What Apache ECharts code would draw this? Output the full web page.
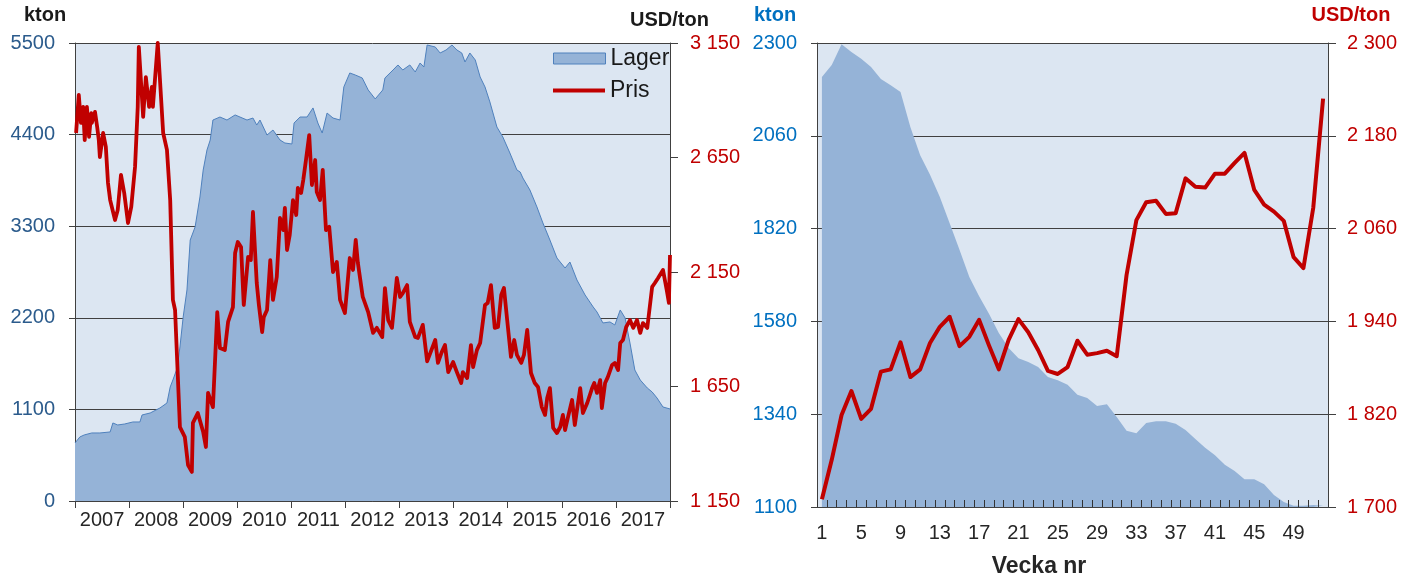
<!DOCTYPE html>
<html>
<head>
<meta charset="utf-8">
<title>Lager och pris</title>
<script src="https://cdn.jsdelivr.net/npm/echarts@6/dist/echarts.min.js"></script>
<style>
  html, body { margin: 0; padding: 0; background: #fff; }
  #chart { width: 1419px; height: 578px; }
</style>
</head>
<body>
<div id="chart"></div>
<script>
// ---- vänster diagram: lager (kton) och pris (USD/ton), 2007-2017 ----
const yearLabels = ['2007', '2008', '2009', '2010', '2011', '2012', '2013', '2014', '2015', '2016', '2017'];

const lagerYears = [
  2007.00, 2007.09, 2007.17, 2007.31, 2007.46, 2007.65, 2007.70, 2007.79, 2007.92, 2008.07,
  2008.20, 2008.24, 2008.39, 2008.57, 2008.70, 2008.76, 2008.81, 2008.89, 2008.94, 2009.00,
  2009.07, 2009.13, 2009.22, 2009.31, 2009.37, 2009.44, 2009.50, 2009.55, 2009.68, 2009.81,
  2009.96, 2010.05, 2010.18, 2010.29, 2010.36, 2010.42, 2010.55, 2010.66, 2010.79, 2010.88,
  2011.01, 2011.05, 2011.16, 2011.29, 2011.40, 2011.49, 2011.57, 2011.66, 2011.77, 2011.90,
  2011.97, 2012.08, 2012.18, 2012.31, 2012.42, 2012.55, 2012.69, 2012.73, 2012.88, 2012.97,
  2013.06, 2013.19, 2013.29, 2013.38, 2013.45, 2013.51, 2013.66, 2013.75, 2013.86, 2013.97,
  2014.06, 2014.15, 2014.21, 2014.30, 2014.40, 2014.49, 2014.58, 2014.67, 2014.80, 2014.91,
  2015.04, 2015.17, 2015.23, 2015.28, 2015.41, 2015.54, 2015.65, 2015.78, 2015.91, 2016.06,
  2016.15, 2016.28, 2016.43, 2016.58, 2016.65, 2016.76, 2016.89, 2016.98, 2017.08, 2017.17,
  2017.26, 2017.35, 2017.45, 2017.58, 2017.67, 2017.76, 2017.87, 2018.00
];
const lagerKton = [
  697, 769, 793, 817, 817, 829, 937, 913, 925, 949,
  949, 1033, 1057, 1117, 1177, 1369, 1453, 1597, 1849, 2210,
  2534, 3134, 3290, 3651, 3975, 4215, 4335, 4575, 4611, 4575,
  4636, 4611, 4575, 4599, 4515, 4575, 4395, 4455, 4335, 4299,
  4287, 4539, 4611, 4611, 4720, 4539, 4419, 4659, 4599, 4575,
  4972, 5140, 5116, 5080, 4936, 4828, 4936, 5080, 5176, 5236,
  5176, 5236, 5152, 5260, 5212, 5476, 5452, 5380, 5416, 5476,
  5416, 5380, 5272, 5380, 5296, 5092, 4972, 4792, 4491, 4371,
  4179, 3975, 3951, 3879, 3735, 3531, 3339, 3134, 2918, 2798,
  2870, 2654, 2474, 2330, 2270, 2138, 2150, 2114, 2294, 2198,
  1897, 1573, 1453, 1357, 1309, 1237, 1129, 1105
];

const prisYears = [
  2007.02, 2007.07, 2007.11, 2007.15, 2007.18, 2007.22, 2007.26, 2007.30, 2007.31, 2007.37,
  2007.41, 2007.44, 2007.46, 2007.52, 2007.57, 2007.61, 2007.65, 2007.74, 2007.79, 2007.85,
  2007.91, 2007.98, 2008.04, 2008.11, 2008.16, 2008.18, 2008.26, 2008.31, 2008.37, 2008.42,
  2008.44, 2008.53, 2008.63, 2008.70, 2008.76, 2008.81, 2008.85, 2008.94, 2009.03, 2009.09,
  2009.16, 2009.18, 2009.27, 2009.37, 2009.42, 2009.46, 2009.55, 2009.63, 2009.68, 2009.77,
  2009.83, 2009.92, 2009.96, 2010.01, 2010.07, 2010.12, 2010.20, 2010.25, 2010.29, 2010.36,
  2010.40, 2010.46, 2010.49, 2010.55, 2010.61, 2010.66, 2010.73, 2010.79, 2010.85, 2010.88,
  2010.92, 2010.97, 2011.03, 2011.09, 2011.12, 2011.18, 2011.22, 2011.27, 2011.33, 2011.38,
  2011.44, 2011.47, 2011.53, 2011.58, 2011.64, 2011.70, 2011.77, 2011.84, 2011.90, 2011.99,
  2012.08, 2012.14, 2012.19, 2012.23, 2012.32, 2012.42, 2012.51, 2012.58, 2012.68, 2012.73,
  2012.79, 2012.86, 2012.95, 2013.01, 2013.06, 2013.14, 2013.19, 2013.29, 2013.34, 2013.43,
  2013.51, 2013.66, 2013.71, 2013.78, 2013.84, 2013.90, 2013.99, 2014.06, 2014.14, 2014.17,
  2014.25, 2014.32, 2014.36, 2014.43, 2014.49, 2014.58, 2014.63, 2014.69, 2014.76, 2014.82,
  2014.88, 2014.93, 2014.99, 2015.06, 2015.12, 2015.17, 2015.25, 2015.30, 2015.36, 2015.43,
  2015.50, 2015.56, 2015.63, 2015.69, 2015.73, 2015.78, 2015.84, 2015.91, 2015.97, 2016.02,
  2016.06, 2016.11, 2016.19, 2016.24, 2016.34, 2016.39, 2016.47, 2016.56, 2016.60, 2016.65,
  2016.71, 2016.74, 2016.80, 2016.85, 2016.93, 2016.98, 2017.04, 2017.08, 2017.13, 2017.19,
  2017.26, 2017.32, 2017.39, 2017.45, 2017.50, 2017.58, 2017.61, 2017.67, 2017.72, 2017.78,
  2017.87, 2017.94, 2017.98, 2018.00
];
const prisUsd = [
  2757, 2923, 2801, 2871, 2726, 2871, 2740, 2844, 2801, 2849,
  2783, 2726, 2652, 2757, 2696, 2539, 2464, 2377, 2421, 2574,
  2495, 2364, 2434, 2609, 2871, 3133, 2827, 3001, 2871, 2958,
  2871, 3150, 2757, 2683, 2464, 2028, 1984, 1473, 1430, 1307,
  1277, 1491, 1534, 1451, 1386, 1622, 1560, 1975, 1818, 1809,
  1932, 1997, 2233, 2281, 2259, 2006, 2216, 2202, 2412, 2102,
  2006, 1888, 1953, 1984, 2202, 2028, 2128, 2386, 2333, 2430,
  2246, 2312, 2464, 2399, 2517, 2495, 2552, 2639, 2748, 2530,
  2639, 2499, 2464, 2596, 2333, 2347, 2150, 2194, 2028, 1971,
  2211, 2159, 2290, 2189, 2041, 1975, 1884, 1906, 1866, 2080,
  1940, 1906, 2124, 2041, 2058, 2093, 1932, 1866, 1862, 1919,
  1760, 1853, 1753, 1800, 1831, 1713, 1757, 1713, 1665, 1713,
  1687, 1831, 1735, 1809, 1840, 2006, 2015, 2093, 1906, 1910,
  2050, 2080, 1940, 1779, 1853, 1788, 1753, 1788, 1897, 1709,
  1665, 1648, 1560, 1526, 1600, 1643, 1469, 1447, 1473, 1526,
  1460, 1512, 1591, 1482, 1643, 1534, 1578, 1643, 1665, 1622,
  1678, 1556, 1665, 1691, 1744, 1753, 1722, 1840, 1853, 1910,
  1940, 1906, 1940, 1884, 1927, 1906, 1906, 2085, 2102, 2124,
  2159, 2071, 2015, 2224
];
const usdTicksLeft = [1150, 1650, 2150, 2650, 3150];

// ---- höger diagram: vecka 1-52 ----
const weeks = [
  '1', '2', '3', '4', '5', '6', '7', '8', '9', '10', '11', '12', '13',
  '14', '15', '16', '17', '18', '19', '20', '21', '22', '23', '24', '25', '26',
  '27', '28', '29', '30', '31', '32', '33', '34', '35', '36', '37', '38', '39',
  '40', '41', '42', '43', '44', '45', '46', '47', '48', '49', '50', '51', '52'
];
const weekLager = [
  2212, 2243, 2297, 2277, 2259, 2238, 2207, 2191, 2173, 2083, 2010, 1959, 1902,
  1834, 1765, 1695, 1645, 1600, 1550, 1511, 1485, 1475, 1462, 1436, 1428, 1416,
  1390, 1382, 1361, 1366, 1333, 1297, 1291, 1317, 1322, 1322, 1315, 1299, 1276,
  1253, 1234, 1209, 1193, 1172, 1172, 1159, 1131, 1113, 1103, 1103, 1105, 1103
];
const weekPris = [
  1710, 1761, 1819, 1850, 1814, 1827, 1875, 1878, 1913, 1868, 1878, 1912, 1933,
  1946, 1908, 1920, 1942, 1909, 1878, 1916, 1943, 1926, 1903, 1876, 1872, 1881,
  1915, 1897, 1899, 1902, 1895, 2000, 2071, 2094, 2096, 2079, 2080, 2125, 2114,
  2113, 2131, 2131, 2145, 2158, 2110, 2091, 2082, 2070, 2023, 2009, 2087, 2228
];
const ktonTicksRight = [1100, 1340, 1580, 1820, 2060, 2300];
const usdTicksRight = [1700, 1820, 1940, 2060, 2180, 2300];

const FONT = '"Liberation Sans", Arial, sans-serif';
const AXIS = '#404040';
const GRID = '#404040';
const FILL = '#95b3d7';
const EDGE = '#4f81bd';
const RED = '#c00000';

function spaced(v) {
  const s = String(Math.round(v));
  return s.length > 3 ? s.slice(0, -3) + ' ' + s.slice(-3) : s;
}
function plain(v) {
  return String(Math.round(v));
}

const chart = echarts.init(document.getElementById('chart'), null, { renderer: 'canvas' });

const option = {
  animation: false,
  textStyle: { fontFamily: FONT },
  grid: [
    { left: 75, top: 43, width: 595, height: 458, show: true, backgroundColor: '#dce6f2', borderWidth: 0 },
    { left: 817, top: 43, width: 511, height: 464, show: true, backgroundColor: '#dce6f2', borderWidth: 0 }
  ],
  legend: [
    {
      data: [{ name: 'Lager', icon: 'rect', itemStyle: { color: FILL, borderColor: EDGE, borderWidth: 1 } }],
      left: 553, top: 47, padding: 0, itemWidth: 52, itemHeight: 11, selectedMode: false,
      textStyle: { fontSize: 23, lineHeight: 23, color: '#1a1a1a', fontFamily: FONT }
    },
    {
      data: [{ name: 'Pris', icon: 'rect', itemStyle: { color: RED, borderWidth: 0 } }],
      left: 553, top: 79, padding: 0, itemWidth: 52, itemHeight: 4, selectedMode: false,
      textStyle: { fontSize: 23, lineHeight: 23, color: '#1a1a1a', fontFamily: FONT }
    }
  ],
  xAxis: [
    {
      gridIndex: 0, type: 'value', min: 2007, max: 2018, interval: 1, position: 'bottom', z: 5,
      axisLine: { show: true, lineStyle: { color: AXIS, width: 1 } },
      axisTick: { show: true, length: 7, lineStyle: { color: AXIS } },
      axisLabel: { show: false },
      splitLine: { show: false }
    },
    {
      gridIndex: 0, type: 'category', data: yearLabels, position: 'bottom', boundaryGap: true,
      axisLine: { show: false }, axisTick: { show: false },
      axisLabel: { interval: 0, fontSize: 20, color: '#262626', margin: 9 }
    },
    {
      gridIndex: 1, type: 'category', data: weeks, boundaryGap: true, position: 'bottom', z: 5,
      axisLine: { show: true, lineStyle: { color: AXIS, width: 1 } },
      axisTick: { show: true, inside: true, interval: 0, length: 7, lineStyle: { color: '#333333' } },
      axisLabel: { interval: 3, fontSize: 20, color: '#262626', margin: 16 }
    }
  ],
  yAxis: [
    {
      gridIndex: 0, type: 'value', min: 0, max: 5500, interval: 1100, position: 'left',
      axisLine: { show: true, lineStyle: { color: AXIS } },
      axisTick: { show: true, length: 6, lineStyle: { color: AXIS } },
      axisLabel: { fontSize: 20, color: '#2b5b8c', margin: 20, formatter: plain },
      splitLine: { show: true, lineStyle: { color: GRID, width: 1 } }
    },
    {
      gridIndex: 0, type: 'value', min: 1150, max: 3150, position: 'right',
      axisLine: { show: true, lineStyle: { color: AXIS } },
      axisTick: { show: true, length: 8, customValues: usdTicksLeft, lineStyle: { color: AXIS } },
      axisLabel: { fontSize: 20, color: RED, margin: 20, customValues: usdTicksLeft, formatter: spaced },
      splitLine: { show: false }
    },
    {
      gridIndex: 1, type: 'value', min: 1100, max: 2300, position: 'left',
      axisLine: { show: true, lineStyle: { color: AXIS } },
      axisTick: { show: true, length: 6, customValues: ktonTicksRight, lineStyle: { color: AXIS } },
      axisLabel: { fontSize: 20, color: '#0070c0', margin: 20, customValues: ktonTicksRight, formatter: plain },
      splitLine: { show: true, lineStyle: { color: GRID, width: 1 } }
    },
    {
      gridIndex: 1, type: 'value', min: 1700, max: 2300, position: 'right',
      axisLine: { show: true, lineStyle: { color: AXIS } },
      axisTick: { show: true, length: 8, customValues: usdTicksRight, lineStyle: { color: AXIS } },
      axisLabel: { fontSize: 20, color: RED, margin: 19, customValues: usdTicksRight, formatter: spaced },
      splitLine: { show: false }
    }
  ],
  graphic: [
    { type: 'text', x: 45, y: 15, style: { text: 'kton', font: 'bold 20px ' + FONT, fill: '#1a1a1a', align: 'center', verticalAlign: 'middle' } },
    { type: 'text', x: 630, y: 20, style: { text: 'USD/ton', font: 'bold 20px ' + FONT, fill: '#1a1a1a', align: 'left', verticalAlign: 'middle' } },
    { type: 'text', x: 775, y: 15, style: { text: 'kton', font: 'bold 20px ' + FONT, fill: '#0070c0', align: 'center', verticalAlign: 'middle' } },
    { type: 'text', x: 1351, y: 15, style: { text: 'USD/ton', font: 'bold 20px ' + FONT, fill: RED, align: 'center', verticalAlign: 'middle' } },
    { type: 'text', x: 1039, y: 567, style: { text: 'Vecka nr', font: 'bold 23px ' + FONT, fill: '#262626', align: 'center', verticalAlign: 'middle' } }
  ],
  series: [
    {
      name: 'Lager', type: 'line', xAxisIndex: 0, yAxisIndex: 0,
      data: lagerYears.map((t, i) => [t, lagerKton[i]]),
      symbol: 'none', smooth: false,
      lineStyle: { color: EDGE, width: 1 },
      itemStyle: { color: FILL },
      areaStyle: { color: FILL, opacity: 1, origin: 'start' }
    },
    {
      name: 'Pris', type: 'line', xAxisIndex: 0, yAxisIndex: 1,
      data: prisYears.map((t, i) => [t, prisUsd[i]]),
      symbol: 'none', smooth: false,
      lineStyle: { color: RED, width: 3.8, join: 'round' },
      itemStyle: { color: RED }
    },
    {
      name: 'Lager', type: 'line', xAxisIndex: 2, yAxisIndex: 2,
      data: weekLager,
      symbol: 'none', smooth: false,
      lineStyle: { width: 0 },
      itemStyle: { color: FILL },
      areaStyle: { color: FILL, opacity: 1, origin: 'start' }
    },
    {
      name: 'Pris', type: 'line', xAxisIndex: 2, yAxisIndex: 3,
      data: weekPris,
      symbol: 'none', smooth: false,
      lineStyle: { color: RED, width: 4, join: 'round' },
      itemStyle: { color: RED }
    }
  ]
};

chart.setOption(option);
</script>
</body>
</html>
